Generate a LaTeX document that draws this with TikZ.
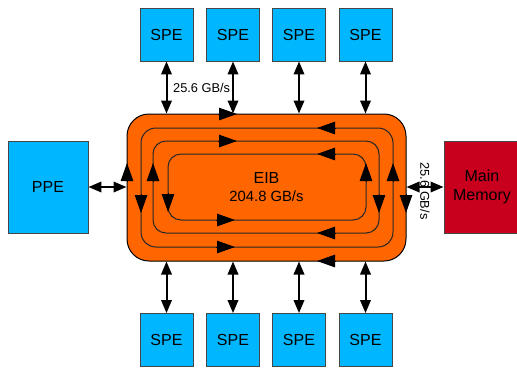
\documentclass[tikz,border=0pt]{standalone}
\usepackage{fontspec}
\setmainfont{Liberation Sans}
\usetikzlibrary{arrows.meta,calc}
\definecolor{speblue}{RGB}{0,183,255}
\definecolor{eiborange}{RGB}{255,102,0}
\definecolor{memred}{RGB}{200,0,30}
\definecolor{boxedge}{RGB}{70,70,70}
\tikzset{
  unitbox/.style={draw=boxedge,line width=0.9pt,inner sep=0pt,font=\fontsize{16}{18}\selectfont},
  spebox/.style={unitbox,fill=speblue,minimum width=53pt,minimum height=53pt},
  dbl/.style={line width=2pt,{Triangle[length=13pt,width=10.5pt]}-{Triangle[length=13pt,width=10.5pt]}},
  ring/.style={draw=black!85,line width=1pt},
  ringarrow/.style={-{Triangle[length=18pt,width=12.5pt]},line width=1pt,black},
  bw/.style={font=\fontsize{12.8}{14}\selectfont,inner sep=0pt}
}
\begin{document}
\begin{tikzpicture}[x=1pt,y=-1pt]
\useasboundingbox (0,0) rectangle (517,368);
% EIB
\node[draw=black,line width=1pt,fill=eiborange,rounded corners=22pt,minimum width=279pt,minimum height=147pt,inner sep=0pt,align=center] (eib) at (266.5,187.5) {};
\node[align=center,font=\fontsize{16}{19}\selectfont] (eibtxt) at (266.5,187.5) {EIB\\[-1pt]{\fontsize{14.8}{17}\selectfont 204.8 GB/s}};
% rings
\draw[ring,rounded corners=15pt] (141,128) rectangle (393,247);
\draw[ring,rounded corners=13pt] (153,141) rectangle (379,233);
\draw[ring,rounded corners=13pt] (168,154) rectangle (366,220);
% ring arrows: border (clockwise)
\coordinate (b1) at (237,114); \draw[ringarrow] ($(b1)+(-19,0)$) -- (b1);
\coordinate (b2) at (406,213); \draw[ringarrow] ($(b2)+(0,-19)$) -- (b2);
\coordinate (b3) at (317,261); \draw[ringarrow] ($(b3)+(19,0)$) -- (b3);
\coordinate (b4) at (127,163); \draw[ringarrow] ($(b4)+(0,19)$) -- (b4);
% ring A (counter-clockwise)
\coordinate (a1) at (317,128); \draw[ringarrow] ($(a1)+(19,0)$) -- (a1);
\coordinate (a2) at (141,213); \draw[ringarrow] ($(a2)+(0,-19)$) -- (a2);
\coordinate (a3) at (235,247); \draw[ringarrow] ($(a3)+(-19,0)$) -- (a3);
\coordinate (a4) at (393,163); \draw[ringarrow] ($(a4)+(0,19)$) -- (a4);
% ring B (clockwise)
\coordinate (c1) at (237,141); \draw[ringarrow] ($(c1)+(-19,0)$) -- (c1);
\coordinate (c2) at (379,213); \draw[ringarrow] ($(c2)+(0,-19)$) -- (c2);
\coordinate (c3) at (317,233); \draw[ringarrow] ($(c3)+(19,0)$) -- (c3);
\coordinate (c4) at (153,163); \draw[ringarrow] ($(c4)+(0,19)$) -- (c4);
% ring C (counter-clockwise)
\coordinate (d1) at (317,154); \draw[ringarrow] ($(d1)+(19,0)$) -- (d1);
\coordinate (d2) at (168,212); \draw[ringarrow] ($(d2)+(0,-19)$) -- (d2);
\coordinate (d3) at (235,220); \draw[ringarrow] ($(d3)+(-19,0)$) -- (d3);
\coordinate (d4) at (366,163); \draw[ringarrow] ($(d4)+(0,19)$) -- (d4);
% SPEs
\foreach \i/\x in {1/166.5,2/233,3/299,4/365.5}{
  \node[spebox] (t\i) at (\x,34.5) {SPE};
  \node[spebox] (s\i) at (\x,340) {SPE};
  \draw[dbl] (t\i.south) -- (t\i.south |- eib.north);
  \draw[dbl] (s\i.north |- eib.south) -- (s\i.north);
}
% PPE and Main Memory
\node[unitbox,fill=speblue,minimum width=80pt,minimum height=92pt] (ppe) at (48,187) {PPE};
\node[unitbox,fill=memred,minimum width=76pt,minimum height=92pt,align=center,font=\fontsize{16}{19}\selectfont] (mem) at (482,187) {Main\\Memory};
\draw[dbl] (ppe.east) -- (eib.west |- ppe.east);
\draw[dbl] (eib.east |- mem.west) -- (mem.west);
% labels
\node[bw,anchor=west] (lbl1) at (173,88) {25.6 GB/s};
\node[bw,rotate=-90] (lbl2) at (425,191) {25.6 GB/s};
\end{tikzpicture}
\end{document}
